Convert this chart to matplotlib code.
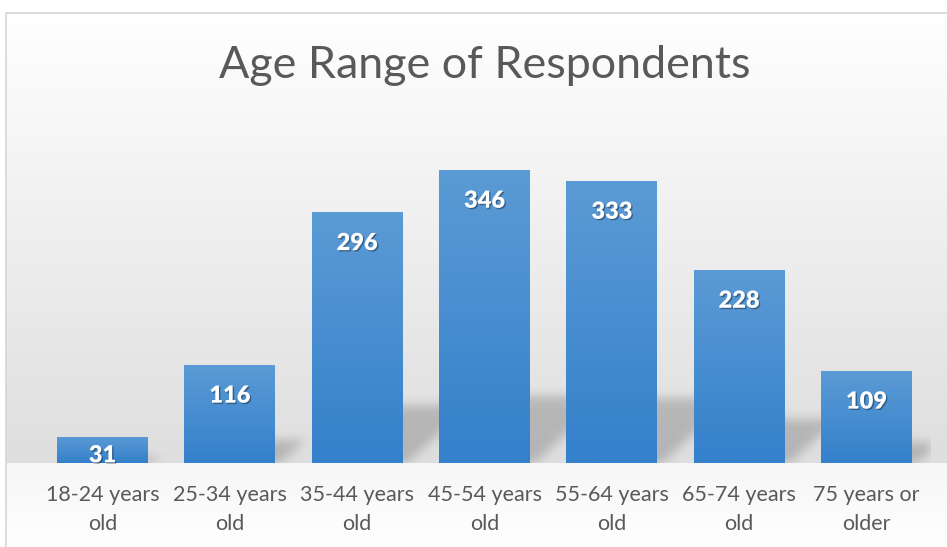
import numpy as np
import matplotlib
matplotlib.use('Agg')
import matplotlib.pyplot as plt
import matplotlib.patheffects as pe

# data
categories = ['18-24 years\nold', '25-34 years\nold', '35-44 years\nold', '45-54 years\nold',
              '55-64 years\nold', '65-74 years\nold', '75 years or\nolder']
counts = [31, 116, 296, 346, 333, 228, 109]
title = 'Age Range of Respondents'

W, H = 947, 547
DPI = 100
fig = plt.figure(figsize=(W / DPI, H / DPI), dpi=DPI)
fig.patch.set_facecolor('white')

# background gradient for the chart area (pixel rows, top to bottom)
bg_ax = fig.add_axes([0, 0, 1, 1], zorder=0)
bg_ax.set_axis_off()
rows = np.arange(H)
base_px = 463
shade = np.where(rows < base_px,
                 255 - 33 * np.clip((rows - 12) / (base_px - 12), 0, 1),
                 246 + 9 * (rows - base_px) / (H - base_px))
shade = shade / 255.0
bg = np.repeat(np.repeat(shade[:, None], W, axis=1)[:, :, None], 3, axis=2)
bg[:12, :, :] = 1.0
bg[:, :5, :] = 1.0
bg_ax.imshow(bg, extent=[0, W, H, 0], aspect='auto', interpolation='bilinear')
bg_ax.set_xlim(0, W)
bg_ax.set_ylim(H, 0)
# chart border
bg_ax.plot([5.5, 5.5, W], [H, 12.5, 12.5], color='#d9d9d9', lw=1.3)

# main axes
left, right = 38.8, 930.2
top_px = 124
ax = fig.add_axes([left / W, (H - base_px) / H, (right - left) / W, (base_px - top_px) / H], zorder=1)
ax.patch.set_alpha(0)
n = len(counts)
x = np.arange(n)
width = 0.714
ax.set_xlim(-0.5, n - 0.5)
ax.set_ylim(0, 400)
for s in ax.spines.values():
    s.set_visible(False)
ax.set_yticks([])
ax.set_xticks(x)
ax.set_xticklabels(categories, fontsize=15.5, color='#595959', family='Lato', linespacing=1.55)
ax.tick_params(axis='x', length=0, pad=16)

# perspective shadows behind the bars, built on the pixel grid of the axes
fig.canvas.draw()
bbox = ax.get_window_extent()
aw, ah = int(round(bbox.width)), int(round(bbox.height))
px_x = np.arange(aw) + 0.5
px_y = np.arange(ah) + 0.5  # from bottom
XX, YY = np.meshgrid(px_x, px_y)
mask = np.zeros((ah, aw))
for i, v in enumerate(counts):
    (x0, y0), (x1, y1) = ax.transData.transform([(i - width / 2, 0), (i + width / 2, v)]) - [bbox.x0, bbox.y0]
    hgt = (y1 - y0) * 0.23
    xs = XX - 1.1 * (YY - y0)
    inside = (YY >= y0) & (YY <= y0 + hgt) & (xs >= x0 + 4) & (xs <= x1 + 4)
    mask[inside] = 1.0
sig = 5.0
k = np.arange(-15, 16)
g = np.exp(-k ** 2 / (2 * sig ** 2))
g /= g.sum()
blur = np.apply_along_axis(lambda r: np.convolve(r, g, mode='same'), 1, mask)
blur = np.apply_along_axis(lambda c: np.convolve(c, g, mode='same'), 0, blur)
shadow = np.zeros((ah, aw, 4))
shadow[:, :, 3] = blur * 0.19
ax.imshow(shadow[::-1], extent=[*ax.get_xlim(), *ax.get_ylim()], aspect='auto', zorder=1,
          interpolation='bilinear')

# bars with a vertical gradient
top_c = np.array([91, 155, 213]) / 255
bot_c = np.array([52, 128, 203]) / 255
grad = np.linspace(0, 1, 100)[:, None]
grad_img = (top_c * grad[:, :, None] + bot_c * (1 - grad[:, :, None]))
bars = ax.bar(x, counts, width=width, color='none', zorder=2)
for rect, v in zip(bars, counts):
    im = ax.imshow(grad_img, extent=[rect.get_x(), rect.get_x() + rect.get_width(), 0, v],
                   origin='lower', aspect='auto', zorder=2, interpolation='bilinear')
    im.set_clip_path(rect)
ax.set_xlim(-0.5, n - 0.5)
ax.set_ylim(0, 400)

# value labels
for i, v in enumerate(counts):
    ypos = max(v - 23.6, 22)
    ax.text(i, ypos, str(v), ha='center', va='top', color='white', fontsize=17,
            fontweight='heavy', family='Lato', zorder=3,
            path_effects=[pe.withSimplePatchShadow(offset=(1, -1), shadow_rgbFace='black', alpha=0.35)])

fig.text(485 / W, 1 - 65 / H, title, ha='center', va='center', fontsize=32.3, color='#595959',
         family='Lato', zorder=5)

fig.savefig('out.png', dpi=DPI)
